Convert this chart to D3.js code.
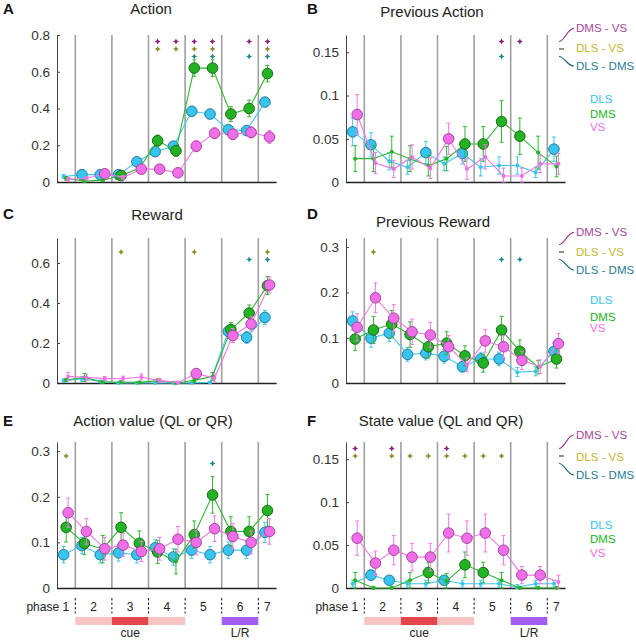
<!DOCTYPE html>
<html><head><meta charset="utf-8">
<script src="https://cdn.jsdelivr.net/npm/d3@7"></script>
<style>body{margin:0;background:#fff} svg{display:block} text{font-family:"Liberation Sans",Arial,Helvetica,sans-serif}</style>
</head><body><svg id="c" width="636" height="640"></svg>
<script>
// ---------- DATA ----------
const seriesNames = ["DLS", "DMS", "VS"];
const pairNames = ["DMS - VS", "DLS - VS", "DLS - DMS"];
const phaseNames = ["phase 1", "2", "3", "4", "5", "6", "7"];
const eventNames = ["cue", "L/R"];

// A: Action
const actDLS = [0.03, 0.04, 0.04, 0.04, 0.11, 0.165, 0.195, 0.385, 0.37, 0.285, 0.28, 0.435];
const actDLSErr = [0.01, 0.012, 0.012, 0.012, 0.015, 0.02, 0.02, 0.025, 0.025, 0.02, 0.02, 0.025];
const actDLSSig = [0, 1, 1, 1, 1, 1, 1, 1, 1, 1, 1, 1];
const actDMS = [0.02, 0.005, 0.01, 0.035, 0.075, 0.225, 0.17, 0.62, 0.62, 0.37, 0.4, 0.59];
const actDMSErr = [0.01, 0.005, 0.008, 0.01, 0.015, 0.03, 0.03, 0.045, 0.045, 0.04, 0.045, 0.045];
const actDMSSig = [0, 0, 0, 1, 0, 1, 1, 1, 1, 1, 1, 1];
const actVS = [0.015, 0.02, 0.045, 0.025, 0.07, 0.07, 0.05, 0.195, 0.265, 0.26, 0.27, 0.245];
const actVSErr = [0.01, 0.01, 0.012, 0.01, 0.015, 0.015, 0.015, 0.03, 0.03, 0.03, 0.03, 0.035];
const actVSSig = [0, 0, 1, 0, 1, 1, 1, 1, 1, 1, 1, 1];
const actStars = [[5, 6, 7, 8, 10, 11], [5, 6, 7, 8, 11], [7, 8, 10, 11]];

// B: Previous Action
const prevActDLS = [0.058, 0.043, 0.024, 0.017, 0.034, 0.021, 0.033, 0.017, 0.019, 0.019, 0.011, 0.038];
const prevActDLSErr = [0.016, 0.014, 0.01, 0.008, 0.013, 0.008, 0.012, 0.01, 0.01, 0.01, 0.006, 0.014];
const prevActDLSSig = [1, 1, 0, 0, 1, 0, 1, 0, 0, 0, 0, 1];
const prevActDMS = [0.027, 0.027, 0.035, 0.027, 0.019, 0.027, 0.044, 0.044, 0.07, 0.053, 0.034, 0.018];
const prevActDMSErr = [0.015, 0.015, 0.018, 0.015, 0.012, 0.014, 0.02, 0.02, 0.024, 0.021, 0.019, 0.012];
const prevActDMSSig = [0, 0, 0, 0, 0, 0, 1, 1, 1, 1, 0, 0];
const prevActVS = [0.078, 0.022, 0.015, 0.029, 0.016, 0.05, 0.015, 0.029, 0.007, 0.007, 0.021, 0.021];
const prevActVSErr = [0.023, 0.012, 0.01, 0.014, 0.012, 0.018, 0.012, 0.014, 0.009, 0.009, 0.01, 0.012];
const prevActVSSig = [1, 0, 0, 0, 0, 1, 0, 0, 0, 0, 0, 0];
const prevActStars = [[8, 9], [], [8]];

// C: Reward
const rewDLS = [0.012, 0.02, 0.008, 0.0, 0.0, 0.0, 0.0, 0.0, 0.003, 0.258, 0.228, 0.328];
const rewDLSErr = [0.008, 0.012, 0.006, 0.004, 0.004, 0.004, 0.004, 0.004, 0.005, 0.03, 0.03, 0.035];
const rewDLSSig = [0, 0, 0, 0, 0, 0, 0, 0, 0, 1, 1, 1];
const rewDMS = [0.015, 0.028, 0.005, 0.005, 0.003, 0.012, 0.0, 0.013, 0.033, 0.267, 0.35, 0.487];
const rewDMSErr = [0.008, 0.02, 0.006, 0.006, 0.005, 0.008, 0.004, 0.008, 0.02, 0.035, 0.04, 0.045];
const rewDMSSig = [0, 0, 0, 0, 0, 0, 0, 0, 0, 1, 1, 1];
const rewVS = [0.033, 0.028, 0.022, 0.022, 0.03, 0.012, 0.003, 0.047, 0.025, 0.237, 0.295, 0.49];
const rewVSErr = [0.02, 0.015, 0.01, 0.012, 0.015, 0.01, 0.005, 0.012, 0.02, 0.035, 0.035, 0.04];
const rewVSSig = [0, 0, 0, 0, 0, 0, 0, 1, 0, 1, 1, 1];
const rewStars = [[], [3, 7, 11], [10, 11]];

// D: Previous Reward
const prevRewDLS = [0.137, 0.099, 0.11, 0.063, 0.066, 0.059, 0.036, 0.053, 0.053, 0.024, 0.026, 0.07];
const prevRewDLSErr = [0.02, 0.02, 0.018, 0.015, 0.015, 0.015, 0.012, 0.015, 0.015, 0.01, 0.01, 0.018];
const prevRewDLSSig = [1, 1, 1, 1, 1, 1, 1, 1, 1, 0, 0, 1];
const prevRewDMS = [0.097, 0.117, 0.13, 0.107, 0.08, 0.088, 0.06, 0.044, 0.117, 0.07, 0.035, 0.053];
const prevRewDMSErr = [0.025, 0.03, 0.03, 0.028, 0.025, 0.025, 0.022, 0.02, 0.03, 0.025, 0.015, 0.02];
const prevRewDMSSig = [1, 1, 1, 1, 1, 1, 1, 1, 1, 1, 0, 1];
const prevRewVS = [0.123, 0.188, 0.143, 0.113, 0.106, 0.08, 0.04, 0.093, 0.08, 0.05, 0.036, 0.087];
const prevRewVSErr = [0.03, 0.033, 0.03, 0.028, 0.028, 0.025, 0.015, 0.025, 0.025, 0.02, 0.015, 0.022];
const prevRewVSSig = [1, 1, 1, 1, 1, 1, 0, 1, 1, 1, 0, 1];
const prevRewStars = [[], [1], [8, 9]];

// E: Action value
const avDLS = [0.073, 0.093, 0.073, 0.077, 0.073, 0.088, 0.068, 0.083, 0.073, 0.083, 0.083, 0.122];
const avDLSErr = [0.018, 0.018, 0.018, 0.018, 0.018, 0.018, 0.018, 0.018, 0.018, 0.018, 0.018, 0.022];
const avDLSSig = [1, 1, 1, 1, 1, 1, 1, 1, 1, 1, 1, 1];
const avDMS = [0.133, 0.098, 0.085, 0.133, 0.098, 0.079, 0.058, 0.117, 0.204, 0.124, 0.124, 0.17];
const avDMSErr = [0.032, 0.025, 0.03, 0.032, 0.027, 0.025, 0.027, 0.03, 0.04, 0.032, 0.032, 0.035];
const avDMSSig = [1, 1, 0, 1, 1, 1, 0, 1, 1, 1, 1, 1];
const avVS = [0.165, 0.124, 0.086, 0.094, 0.08, 0.086, 0.107, 0.1, 0.13, 0.113, 0.1, 0.124];
const avVSErr = [0.032, 0.028, 0.025, 0.025, 0.022, 0.025, 0.028, 0.027, 0.028, 0.028, 0.025, 0.028];
const avVSSig = [1, 1, 1, 1, 1, 1, 1, 1, 1, 1, 1, 1];
const avStars = [[], [0], [8]];

// F: State value
const svDLS = [0.005, 0.015, 0.009, 0.005, 0.005, 0.009, 0.005, 0.005, 0.005, 0.001, 0.005, 0.005];
const svDLSErr = [0.004, 0.006, 0.005, 0.004, 0.004, 0.005, 0.004, 0.004, 0.004, 0.003, 0.004, 0.004];
const svDLSSig = [0, 1, 1, 0, 0, 1, 0, 0, 0, 0, 0, 0];
const svDMS = [0.009, 0.0, 0.0, 0.009, 0.018, 0.008, 0.027, 0.018, 0.009, 0.0, 0.0, 0.0];
const svDMSErr = [0.009, 0.002, 0.002, 0.009, 0.012, 0.009, 0.015, 0.012, 0.009, 0.002, 0.002, 0.002];
const svDMSSig = [0, 0, 0, 0, 1, 0, 1, 1, 0, 0, 0, 0];
const svVS = [0.058, 0.029, 0.044, 0.036, 0.036, 0.064, 0.058, 0.064, 0.044, 0.015, 0.015, 0.007];
const svVSErr = [0.02, 0.014, 0.017, 0.016, 0.016, 0.022, 0.02, 0.022, 0.017, 0.01, 0.01, 0.008];
const svVSSig = [1, 1, 1, 1, 1, 1, 1, 1, 1, 1, 1, 0];
const svStars = [[0, 2, 5], [0, 2, 3, 4, 5, 6, 7, 8], []];

// ---------- STYLE ----------
const fillC = {DLS: "#36c4f0", DMS: "#22b322", VS: "#f06ee8"};
const lineC = {DLS: "#40c8f0", DMS: "#30b830", VS: "#f07ae8"};
const edgeC = {DLS: "#22708e", DMS: "#155e15", VS: "#9c3c98"};
const offX = {DLS: -2.5, DMS: 0, VS: 2};
const starC = ["#8a1f7c", "#8f8a26", "#1f8a8e"];
const pairLabelC = ["#a3479b", "#c4b532", "#2a7b96"];
const pairLineC = ["#9b3c8f", "#4a4a20", "#1f6a80"];
const svg = d3.select("#c");

function mk(m, e, s) { return m.map((v, i) => ({i, m: v, e: e[i], big: s[i]})); }

const panels = [
  {letter: "A", title: "Action", left: 57, top: 35, bottom: 182, ymax: 0.8, ticks: [0, 0.2, 0.4, 0.6, 0.8],
   tx: 151, ty: 13.5, lx: 3, ly: 13.5,
   data: {DLS: mk(actDLS, actDLSErr, actDLSSig), DMS: mk(actDMS, actDMSErr, actDMSSig), VS: mk(actVS, actVSErr, actVSSig)}, stars: actStars},
  {letter: "B", title: "Previous Action", left: 346, top: 35, bottom: 182, ymax: 0.17, ticks: [0, 0.05, 0.1, 0.15],
   tx: 432, ty: 16.7, lx: 307, ly: 13.5,
   data: {DLS: mk(prevActDLS, prevActDLSErr, prevActDLSSig), DMS: mk(prevActDMS, prevActDMSErr, prevActDMSSig), VS: mk(prevActVS, prevActVSErr, prevActVSSig)}, stars: prevActStars,
   legend: {pairY: [28.3, 48.3, 66], serY: [99, 114, 126.7]}},
  {letter: "C", title: "Reward", left: 57, top: 238, bottom: 383, ymax: 0.725, ticks: [0, 0.2, 0.4, 0.6],
   tx: 157, ty: 220, lx: 3, ly: 218.5,
   data: {DLS: mk(rewDLS, rewDLSErr, rewDLSSig), DMS: mk(rewDMS, rewDMSErr, rewDMSSig), VS: mk(rewVS, rewVSErr, rewVSSig)}, stars: rewStars},
  {letter: "D", title: "Previous Reward", left: 346, top: 238, bottom: 383, ymax: 0.32, ticks: [0, 0.1, 0.2, 0.3],
   tx: 433, ty: 226.5, lx: 307, ly: 218.5,
   data: {DLS: mk(prevRewDLS, prevRewDLSErr, prevRewDLSSig), DMS: mk(prevRewDMS, prevRewDMSErr, prevRewDMSSig), VS: mk(prevRewVS, prevRewVSErr, prevRewVSSig)}, stars: prevRewStars,
   legend: {pairY: [232.3, 251.7, 270], serY: [300, 316.7, 328.3]}},
  {letter: "E", title: "Action value (QL or QR)", left: 57, top: 442, bottom: 588, ymax: 0.32, ticks: [0, 0.1, 0.2, 0.3],
   tx: 153, ty: 426, lx: 3, ly: 426,
   data: {DLS: mk(avDLS, avDLSErr, avDLSSig), DMS: mk(avDMS, avDMSErr, avDMSSig), VS: mk(avVS, avVSErr, avVSSig)}, stars: avStars, phaseRow: true},
  {letter: "F", title: "State value (QL and QR)", left: 346, top: 442, bottom: 588, ymax: 0.17, ticks: [0, 0.05, 0.1, 0.15],
   tx: 441, ty: 426, lx: 307, ly: 426,
   data: {DLS: mk(svDLS, svDLSErr, svDLSSig), DMS: mk(svDMS, svDMSErr, svDMSSig), VS: mk(svVS, svVSErr, svVSSig)}, stars: svStars, phaseRow: true,
   legend: {pairY: [435, 456.7, 475], serY: [525, 539.3, 552.7]}}
];

const phaseBounds = [1, 3, 5, 7, 9, 11];
const phaseCenters = [0.5, 2, 4, 6, 8, 10, 11.5];
const eventBars = [{a: 1, b: 3, c: "#f9c3c3"}, {a: 3, b: 5, c: "#e3474c"}, {a: 5, b: 7, c: "#f9c3c3"}, {a: 9, b: 11, c: "#a45cf2"}];
const eventLabelPos = [4, 10];
const starPath = "M0,-3L1,-1L3,0L1,1L0,3L-1,1L-3,0L-1,-1Z";

panels.forEach(p => {
  const x = d3.scaleLinear().domain([0, 12]).range([p.left, p.left + 219.6]);
  const y = d3.scaleLinear().domain([0, p.ymax]).range([p.bottom, p.top]);
  const g = svg.append("g");

  g.append("text").attr("x", p.lx).attr("y", p.ly).attr("font-size", 15).attr("font-weight", "bold").attr("fill", "#111").text(p.letter);
  g.append("text").attr("x", p.tx).attr("y", p.ty).attr("font-size", 15).attr("text-anchor", "middle").attr("fill", "#222").text(p.title);

  // phase separators
  g.selectAll("line.sep").data(phaseBounds).enter().append("line")
    .attr("x1", d => x(d)).attr("x2", d => x(d)).attr("y1", p.top).attr("y2", p.bottom)
    .attr("stroke", "#a0a0a0").attr("stroke-width", 1.6);

  // y axis
  const ax = g.append("g").attr("transform", `translate(${p.left},0)`)
    .call(d3.axisLeft(y).tickValues(p.ticks).tickFormat(d3.format("~g")).tickSize(-3).tickSizeOuter(0).tickPadding(7));
  ax.select(".domain").attr("stroke", "#444").attr("stroke-width", 1);
  ax.selectAll(".tick line").attr("stroke", "#444");
  ax.selectAll(".tick text").attr("font-size", 13.5).attr("fill", "#333").attr("font-family", "Liberation Sans, Arial, sans-serif");

  // x axis line
  g.append("line").attr("x1", p.left).attr("x2", x(12)).attr("y1", p.bottom + 0.5).attr("y2", p.bottom + 0.5)
    .attr("stroke", "#222").attr("stroke-width", 1.5);

  // series
  seriesNames.forEach(s => {
    const d = p.data[s];
    const sg = g.append("g");
    const px = v => x(v.i + 0.5) + offX[s];
    sg.append("path").datum(d).attr("fill", "none").attr("stroke", lineC[s]).attr("stroke-width", 1.1)
      .attr("d", d3.line().x(px).y(v => y(v.m)));
    const eb = sg.selectAll("g.eb").data(d).enter().append("g").attr("stroke", lineC[s]).attr("stroke-width", 1);
    eb.append("line").attr("x1", px).attr("x2", px).attr("y1", v => y(Math.max(0, v.m - v.e))).attr("y2", v => y(v.m + v.e));
    eb.append("line").attr("x1", v => px(v) - 2).attr("x2", v => px(v) + 2).attr("y1", v => y(v.m + v.e)).attr("y2", v => y(v.m + v.e));
    eb.append("line").attr("x1", v => px(v) - 2).attr("x2", v => px(v) + 2).attr("y1", v => y(Math.max(0, v.m - v.e))).attr("y2", v => y(Math.max(0, v.m - v.e)));
    sg.selectAll("circle").data(d).enter().append("circle")
      .attr("cx", px).attr("cy", v => y(v.m))
      .attr("r", v => v.big ? 5.3 : 2)
      .attr("fill", fillC[s])
      .attr("stroke", v => v.big ? edgeC[s] : "none").attr("stroke-width", 0.9);
  });

  // significance stars
  p.stars.forEach((row, r) => {
    g.selectAll(null).data(row).enter().append("path")
      .attr("d", starPath).attr("fill", starC[r])
      .attr("transform", i => `translate(${x(i + 0.5)},${p.top + 6.5 + 7.5 * r})`);
  });

  // legend
  if (p.legend) {
    pairNames.forEach((nm, r) => {
      const rowY = p.top + 6.5 + 7.5 * r;
      const ly = p.legend.pairY[r];
      const path = r === 1
        ? `M559,${rowY}L564,${rowY}`
        : `M559,${rowY}C565,${rowY} 567,${ly} 574,${ly}`;
      g.append("path").attr("d", path).attr("fill", "none").attr("stroke", pairLineC[r]).attr("stroke-width", 1.2);
      g.append("text").attr("x", 576).attr("y", ly + 4).attr("font-size", 11.5).attr("fill", pairLabelC[r]).text(nm);
    });
    seriesNames.forEach((s, k) => {
      g.append("text").attr("x", 590).attr("y", p.legend.serY[k] + 4).attr("font-size", 11.5).attr("fill", fillC[s]).text(s);
    });
  }

  // phase row
  if (p.phaseRow) {
    g.selectAll(null).data(phaseBounds).enter().append("line")
      .attr("x1", d => x(d)).attr("x2", d => x(d)).attr("y1", p.bottom + 10).attr("y2", p.bottom + 25.5)
      .attr("stroke", "#111").attr("stroke-width", 1).attr("stroke-dasharray", "2.5,2");
    g.selectAll(null).data(phaseNames).enter().append("text")
      .attr("x", (d, k) => k === 0 ? x(phaseCenters[0]) + 3 : x(phaseCenters[k]))
      .attr("y", p.bottom + 22.5).attr("font-size", 12).attr("fill", "#222")
      .attr("text-anchor", (d, k) => k === 0 ? "end" : "middle").text(d => d);
    g.selectAll(null).data(eventBars).enter().append("rect")
      .attr("x", d => x(d.a)).attr("width", d => x(d.b) - x(d.a)).attr("y", p.bottom + 29).attr("height", 8)
      .attr("fill", d => d.c);
    g.selectAll(null).data(eventNames).enter().append("text")
      .attr("x", (d, k) => x(eventLabelPos[k])).attr("y", p.bottom + 48.5)
      .attr("font-size", 12).attr("text-anchor", "middle").attr("fill", "#222").text(d => d);
  }
});
</script></body></html>
